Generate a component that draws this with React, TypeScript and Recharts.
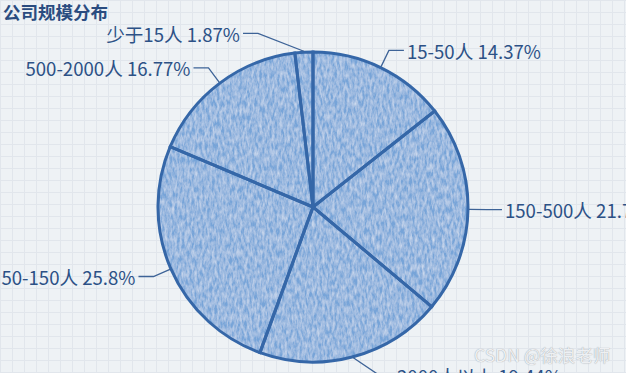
import React from 'react';
import { PieChart, Pie, Cell } from 'recharts';

const categories = ['15-50人', '150-500人', '2000人以上', '50-150人', '500-2000人', '少于15人'];
const shares = [14.37, 21.75, 19.44, 25.8, 16.77, 1.87];
const title = '公司规模分布';
const watermark = 'CSDN @徐浪老师';

const data = categories.map((name, i) => ({ name, value: shares[i] }));

const RAD = Math.PI / 180;
const FONT = '"Noto Sans CJK SC", "Noto Sans", sans-serif';
const LINE_COLOR = '#3d6397';
const TEXT_COLOR = '#2c5186';
const FILL = '#77a4d8';
const STROKE = '#3567a8';

function renderLabel(props: any) {
  const { cx, cy, midAngle, outerRadius, name, value } = props;
  const cos = Math.cos(-midAngle * RAD);
  const sin = Math.sin(-midAngle * RAD);
  const sx = cx + (outerRadius + 1) * cos;
  const sy = cy + (outerRadius + 1) * sin;
  const len = 19;
  const len2 = 15;
  const dir = cos >= 0 ? 1 : -1;
  const minDx = sin < 0 ? 55 : 66;
  let ex = cx + (outerRadius + len) * cos;
  const ey = cy + (outerRadius + len) * sin;
  if (Math.abs(ex - cx) < minDx) ex = cx + dir * minDx;
  const tx = ex + dir * len2;
  return (
    <g>
      <polyline
        points={`${sx},${sy} ${ex},${ey} ${tx},${ey}`}
        fill="none"
        stroke={LINE_COLOR}
        strokeWidth={1.3}
      />
      <text
        x={tx + dir * 3}
        y={ey}
        textAnchor={dir > 0 ? 'start' : 'end'}
        dominantBaseline="central"
        fill={TEXT_COLOR}
        fontSize={18.6}
        fontFamily={FONT}
      >
        {`${name} ${value}%`}
      </text>
    </g>
  );
}

export default function App() {
  return (
    <div
      style={{
        position: 'fixed',
        left: 0,
        top: 0,
        width: 626,
        height: 373,
        overflow: 'hidden',
        backgroundColor: '#eef2f5',
        backgroundImage:
          'linear-gradient(#e1e6ec 1px, transparent 1px), linear-gradient(90deg, #e1e6ec 1px, transparent 1px)',
        backgroundSize: '12px 12px',
      }}
    >
      <PieChart width={626} height={373} margin={{ top: 0, right: 0, bottom: 0, left: 0 }}>
        <defs>
          <filter id="pencil" x="0" y="0" width="100%" height="100%">
            <feTurbulence type="fractalNoise" baseFrequency="0.4 0.14" numOctaves={3} seed={7} result="noise" />
            <feColorMatrix
              in="noise"
              type="matrix"
              values="0 0 0 0 1  0 0 0 0 1  0 0 0 0 1  0.8 0 0 0 -0.22"
              result="white"
            />
            <feComposite in="white" in2="SourceGraphic" operator="in" result="spots" />
            <feMerge>
              <feMergeNode in="SourceGraphic" />
              <feMergeNode in="spots" />
            </feMerge>
          </filter>
        </defs>
        <Pie
          data={data}
          dataKey="value"
          nameKey="name"
          cx={313}
          cy={207}
          outerRadius={155}
          startAngle={90}
          endAngle={-270}
          stroke="none"
          isAnimationActive={false}
        >
          {data.map((d) => (
            <Cell key={d.name} fill={FILL} stroke="none" filter="url(#pencil)" />
          ))}
        </Pie>
        <Pie
          data={data}
          dataKey="value"
          nameKey="name"
          cx={313}
          cy={207}
          outerRadius={155}
          startAngle={90}
          endAngle={-270}
          fill="none"
          stroke={STROKE}
          strokeWidth={3}
          label={renderLabel}
          labelLine={false}
          isAnimationActive={false}
        >
          {data.map((d) => (
            <Cell key={d.name} fill="none" stroke={STROKE} strokeWidth={3} />
          ))}
        </Pie>
      </PieChart>
      <div
        style={{
          position: 'absolute',
          left: 3,
          top: 0,
          fontFamily: FONT,
          fontWeight: 700,
          fontSize: 17.5,
          lineHeight: '24px',
          color: '#2a4c80',
        }}
      >
        {title}
      </div>
      <div
        style={{
          position: 'absolute',
          left: 474,
          top: 343,
          fontFamily: FONT,
          fontSize: 17.5,
          lineHeight: '24px',
          color: '#eef0f3',
          textShadow: '0 0 1px #8a9098',
        }}
      >
        {watermark}
      </div>
    </div>
  );
}
